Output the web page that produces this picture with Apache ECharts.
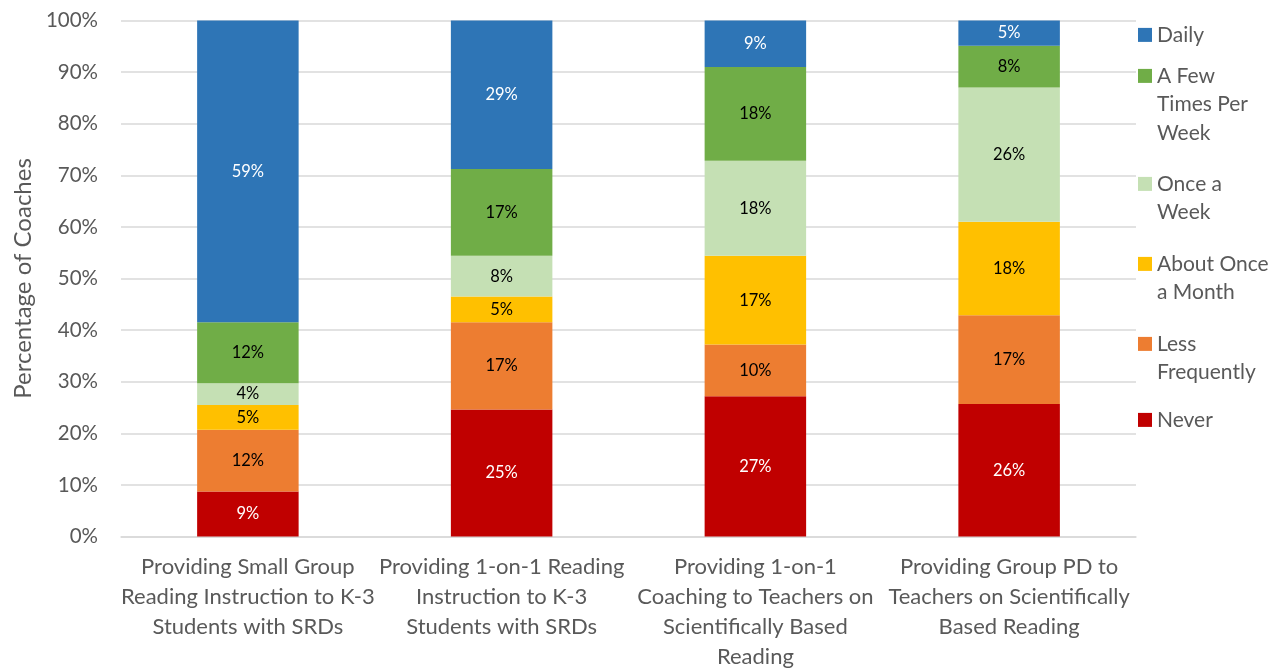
<!DOCTYPE html>
<html>
<head>
<meta charset="utf-8">
<script src="https://cdn.jsdelivr.net/npm/echarts@6/dist/echarts.min.js"></script>
<style>
  html, body { margin: 0; padding: 0; background: #fff; }
  #chart { width: 1280px; height: 668px; }
</style>
</head>
<body>
<div id="chart"></div>
<script>
// Activity categories along the x axis
const categories = [
  'Providing Small Group\nReading Instruction to K-3\nStudents with SRDs',
  'Providing 1-on-1 Reading\nInstruction to K-3\nStudents with SRDs',
  'Providing 1-on-1\nCoaching to Teachers on\nScientifically Based\nReading',
  'Providing Group PD to\nTeachers on Scientifically\nBased Reading'
];

// Share of coaches (%) per frequency, stacked bottom to top
const never       = [8.7, 24.6, 27.2, 25.7];
const lessOften   = [12.0, 16.9, 10.0, 17.2];
const monthly     = [4.8, 5.0, 17.2, 18.1];
const weekly      = [4.2, 7.9, 18.4, 26.0];
const fewPerWeek  = [11.8, 16.8, 18.2, 8.1];
const daily       = [58.5, 28.8, 9.0, 4.9];

const yTicks = [0, 10, 20, 30, 40, 50, 60, 70, 80, 90, 100];

const FONT = 'Lato, "Open Sans", sans-serif';
const GREY = '#595959';

const seriesDefs = [
  { name: 'Never',                data: never,      color: '#c00000', label: '#ffffff', legend: ['Never'] },
  { name: 'Less Frequently',      data: lessOften,  color: '#ed7d31', label: '#000000', legend: ['Less', 'Frequently'] },
  { name: 'About Once a Month',   data: monthly,    color: '#ffc000', label: '#000000', legend: ['About Once', 'a Month'] },
  { name: 'Once a Week',          data: weekly,     color: '#c5e0b4', label: '#000000', legend: ['Once a', 'Week'] },
  { name: 'A Few Times Per Week', data: fewPerWeek, color: '#70ad47', label: '#000000', legend: ['A Few', 'Times Per', 'Week'] },
  { name: 'Daily',                data: daily,      color: '#2e75b6', label: '#ffffff', legend: ['Daily'] }
];

// Legend entries listed top to bottom (Daily first), each placed at its own height
const legendTops = { 'Daily': 20.5, 'A Few Times Per Week': 61.5, 'Once a Week': 169.5, 'About Once a Month': 249.5, 'Less Frequently': 329.5, 'Never': 405.5 };

const legends = seriesDefs.slice().reverse().map(function (s) {
  const rich = {
    sq: { width: 14, height: 14, backgroundColor: s.color },
    g: { width: 5 },
    ind: { width: 19 },
    t: { fontFamily: FONT, fontSize: 21, lineHeight: 28.8, color: GREY }
  };
  return {
    data: [s.name],
    orient: 'vertical',
    left: 1133,
    top: legendTops[s.name],
    padding: 0,
    icon: 'none',
    itemWidth: 0,
    itemHeight: 14,
    textStyle: { fontFamily: FONT, fontSize: 21, lineHeight: 28.8, color: GREY, rich: rich },
    formatter: function () {
      return s.legend.map(function (line, k) {
        return (k === 0 ? '{sq|}{g|}' : '{ind|}') + '{t|' + line + '}';
      }).join('\n');
    }
  };
});

const chart = echarts.init(document.getElementById('chart'), null, { renderer: 'canvas' });

chart.setOption({
  animation: false,
  backgroundColor: '#ffffff',
  textStyle: { fontFamily: FONT },
  grid: { left: 121, right: 144, top: 20.5, bottom: 131.5, containLabel: false, outerBoundsMode: 'none' },
  legend: legends,
  xAxis: {
    type: 'category',
    data: categories,
    axisLine: { show: true, lineStyle: { color: '#d9d9d9', width: 1.5 } },
    axisTick: { show: false },
    axisLabel: {
      interval: 0,
      margin: 16,
      color: GREY,
      fontFamily: FONT,
      fontSize: 22,
      lineHeight: 29.7,
      verticalAlign: 'top'
    }
  },
  yAxis: {
    type: 'value',
    min: yTicks[0],
    max: yTicks[yTicks.length - 1],
    interval: 10,
    name: 'Percentage of Coaches',
    nameLocation: 'middle',
    nameGap: 86,
    nameRotate: 90,
    nameTextStyle: { color: GREY, fontFamily: FONT, fontSize: 24 },
    axisLine: { show: false },
    axisTick: { show: false },
    splitLine: { show: true, lineStyle: { color: '#d9d9d9', width: 1.5 } },
    axisLabel: {
      margin: 23,
      color: GREY,
      fontFamily: FONT,
      fontSize: 20.5,
      formatter: '{value}%'
    }
  },
  series: seriesDefs.map(function (s) {
    return {
      name: s.name,
      type: 'bar',
      stack: 'total',
      barWidth: '40%',
      data: s.data,
      itemStyle: { color: s.color },
      label: {
        show: true,
        position: 'inside',
        color: s.label,
        fontFamily: FONT,
        fontSize: 16.5,
        formatter: function (p) { return Math.round(p.value) + '%'; }
      },
      emphasis: { disabled: true }
    };
  })
});
</script>
</body>
</html>
